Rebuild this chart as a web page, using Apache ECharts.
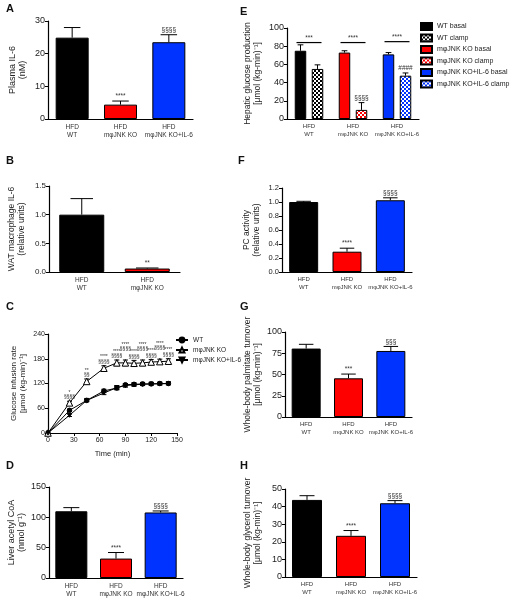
<!DOCTYPE html>
<html><head><meta charset="utf-8">
<script src="https://cdn.jsdelivr.net/npm/echarts@6/dist/echarts.min.js"></script>
<style>html,body{margin:0;padding:0;background:#fff}#c{width:512px;height:600px}</style>
</head><body><div id="c"></div>
<script>
// ---------- data ----------
const groups3 = ['HFD\nWT', 'HFD\nmφJNK KO', 'HFD\nmφJNK KO+IL-6'];
const groups2 = ['HFD\nWT', 'HFD\nmφJNK KO'];

const aMean = [24.9, 4.4, 23.5];
const aErr  = [3.1, 1.1, 2.3];
const aSig  = ['', '****', '§§§§'];

const bMean = [1.0, 0.06];
const bErr  = [0.28, 0.01];
const bSig  = ['', '**'];

const cTime  = [0, 25, 45, 65, 80, 90, 100, 110, 120, 130, 140];
const cWT    = [0, 55, 79, 102, 109, 117, 118, 119, 119, 120, 120];
const cWTErr = [0, 3, 3, 4, 4, 3, 3, 3, 3, 3, 3];
const cKO    = [0, 73, 125, 157, 170, 170, 169, 170, 172, 173, 174];
const cKOErr = [0, 4, 6, 6, 7, 7, 7, 7, 6, 6, 6];
const cIL    = [0, 43, 79, 97, 110, 115, 117, 118, 119, 119, 120];
const cILErr = [0, 3, 3, 4, 5, 4, 4, 3, 3, 3, 3];
const cSig   = ['', '*\n§§§§', '**\n§§', '****\n§§§§', '****\n§§§§', '****\n§§§§', '****\n§§§§', '****\n§§§§', '****\n§§§§', '****\n§§§§', '****\n§§§§'];
const cNames = ['WT', 'mφJNK KO', 'mφJNK KO+IL-6'];

const dMean = [110, 32, 108];
const dErr  = [6, 10, 2.5];
const dSig  = ['', '****', '§§§§'];

const eNames    = ['WT basal', 'WT clamp', 'mφJNK KO basal', 'mφJNK KO clamp', 'mφJNK KO+IL-6 basal', 'mφJNK KO+IL-6 clamp'];
const eBasal    = [75, 73, 71];
const eBasalErr = [6.5, 2, 2];
const eClamp    = [55, 10, 47.6];
const eClampErr = [4.5, 8, 3];
const eClampSig = ['', '§§§§', '####'];
const eBracket    = [84, 84, 85];
const eBracketSig = ['***', '****', '****'];

const fMean = [1.0, 0.29, 1.025];
const fErr  = [0.01, 0.05, 0.035];
const fSig  = ['', '****', '§§§§'];

const gMean = [80.5, 45.5, 77.7];
const gErr  = [5, 5, 5.3];
const gSig  = ['', '***', '§§§'];

const hMean = [43.8, 23.4, 41.9];
const hErr  = [2.4, 3, 1.5];
const hSig  = ['', '****', '§§§§'];

// ---------- styling / builders ----------
const FONT = 'Liberation Sans, Arial, sans-serif';
const COLS = ['#000000', '#ff0000', '#0033ff'];
const grids = [], xAxes = [], yAxes = [], series = [];

function addGrid(left, top, width, height) { grids.push({left, top, width, height}); return grids.length - 1; }
function catAxis(gi, cats, fs) {
  xAxes.push({type: 'category', gridIndex: gi, data: cats,
    axisLine: {lineStyle: {color: '#000', width: 1.2}},
    axisTick: {alignWithLabel: true, length: 3, lineStyle: {color: '#000'}},
    axisLabel: {fontSize: fs, lineHeight: fs + 1.5, color: '#333', margin: 4, fontFamily: FONT, interval: 0},
    splitLine: {show: false}});
  return xAxes.length - 1;
}
function valAxis(gi, min, max, interval, name, dec, gap, fs, nfs) {
  yAxes.push({type: 'value', gridIndex: gi, min, max, interval, name,
    nameLocation: 'middle', nameGap: gap, nameRotate: 90,
    nameTextStyle: {fontSize: nfs, lineHeight: nfs + 1.5, fontFamily: FONT, color: '#222'},
    axisLine: {show: true, lineStyle: {color: '#000', width: 1.2}},
    axisTick: {show: true, length: 3, lineStyle: {color: '#000'}},
    axisLabel: {fontSize: fs, color: '#222', margin: 3, fontFamily: FONT,
      formatter: v => dec ? v.toFixed(dec) : String(v)},
    splitLine: {show: false}});
  return yAxes.length - 1;
}
function errSeries(xi, yi, means, errs, sigs, offset, capW) {
  return {type: 'custom', xAxisIndex: xi, yAxisIndex: yi, z: 5, silent: true,
    data: means.map((m, i) => [i, m, errs[i]]),
    renderItem(params, api) {
      const i = api.value(0), m = api.value(1), e = api.value(2);
      const p0 = api.coord([i, m]), p1 = api.coord([i, m + e]);
      const x = p0[0] + offset, c = capW / 2;
      const ch = [
        {type: 'line', shape: {x1: x, y1: p0[1], x2: x, y2: p1[1]}, style: {stroke: '#000', lineWidth: 1}},
        {type: 'line', shape: {x1: x - c, y1: p1[1], x2: x + c, y2: p1[1]}, style: {stroke: '#000', lineWidth: 1}}
      ];
      const s = sigs[params.dataIndex];
      if (s) ch.push({type: 'text', style: {text: s, x: x, y: p1[1] - 1, align: 'center', verticalAlign: 'bottom',
        fontSize: 6.5, fontFamily: FONT, fill: '#333'}});
      return {type: 'group', children: ch};
    }};
}
function barPanel(gi, cats, means, errs, sigs, ymin, ymax, yint, name, dec, barW, gap, fs, cfs, nfs) {
  const xi = catAxis(gi, cats, cfs), yi = valAxis(gi, ymin, ymax, yint, name, dec, gap, fs, nfs);
  series.push({type: 'bar', xAxisIndex: xi, yAxisIndex: yi, barWidth: barW, silent: true,
    data: means.map((v, i) => ({value: v, itemStyle: {color: COLS[i], borderColor: '#000', borderWidth: 1}}))});
  series.push(errSeries(xi, yi, means, errs, sigs, 0, barW * 0.5));
}

// ---------- panels ----------
barPanel(addGrid(48, 21, 145, 98), groups3, aMean, aErr, aSig, 0, 30, 10, 'Plasma IL-6\n(nM)', 0, 33, 20, 9, 6.5, 9);
barPanel(addGrid(49, 186, 131, 86), groups2, bMean, bErr, bSig, 0, 1.5, 0.5, 'WAT macrophage IL-6\n(relative units)', 1, 45, 22, 8, 6.5, 8.5);
barPanel(addGrid(49, 487, 134, 91), groups3, dMean, dErr, dSig, 0, 150, 50, 'Liver acetyl CoA\n(nmol g⁻¹)', 0, 32, 22, 9, 6.5, 9);
barPanel(addGrid(282, 188, 130, 84), groups3, fMean, fErr, fSig, 0, 1.2, 0.2, 'PC activity\n(relative units)', 1, 29, 20, 7.5, 6, 8.5);
barPanel(addGrid(285, 332, 127, 85), groups3, gMean, gErr, gSig, 0, 100, 25, 'Whole-body palmitate turnover\n[μmol (kg-min)⁻¹]', 0, 29, 22, 9, 6, 8.5);
barPanel(addGrid(285, 489, 132, 88), groups3, hMean, hErr, hSig, 0, 50, 10, 'Whole-body glycerol turnover\n[μmol (kg-min)⁻¹]', 0, 30, 22, 9, 6, 8.5);

// Panel C (line chart)
(function () {
  const gi = addGrid(48, 334, 129, 99);
  xAxes.push({type: 'value', gridIndex: gi, min: 0, max: 150, interval: 30, name: 'Time (min)',
    nameLocation: 'middle', nameGap: 17, nameTextStyle: {fontSize: 7.5, fontFamily: FONT, color: '#222'},
    axisLine: {lineStyle: {color: '#000', width: 1.2}}, axisTick: {length: 3, lineStyle: {color: '#000'}},
    axisLabel: {fontSize: 7, color: '#222', margin: 4, fontFamily: FONT}, splitLine: {show: false}});
  const xi = xAxes.length - 1;
  const yi = valAxis(gi, 0, 240, 60, 'Glucose infusion rate\n[μmol (kg-min)⁻¹]', 0, 20, 7, 8);
  const defs = [
    {ys: cWT, es: cWTErr, symbol: 'circle', size: 4.5, fill: '#000', rot: 0},
    {ys: cKO, es: cKOErr, symbol: 'triangle', size: 6.5, fill: '#fff', rot: 0},
    {ys: cIL, es: cILErr, symbol: 'triangle', size: 4, fill: '#000', rot: 180}
  ];
  defs.forEach((d, k) => {
    series.push({type: 'line', name: cNames[k], xAxisIndex: xi, yAxisIndex: yi, z: 4 + k,
      data: cTime.map((t, i) => [t, d.ys[i]]), symbol: d.symbol, symbolSize: d.size, symbolRotate: d.rot,
      showAllSymbol: true, lineStyle: {color: '#000', width: 1},
      itemStyle: {color: d.fill, borderColor: '#000', borderWidth: 1}});
    series.push({type: 'custom', xAxisIndex: xi, yAxisIndex: yi, z: 3, silent: true,
      data: cTime.map((t, i) => [t, d.ys[i], d.es[i]]),
      renderItem(params, api) {
        const t = api.value(0), m = api.value(1), e = api.value(2);
        const idx = params.dataIndex;
        const ch = [];
        const pa = api.coord([t, m - e]), pb = api.coord([t, m + e]);
        if (e > 0) {
          ch.push({type: 'line', shape: {x1: pa[0], y1: pa[1], x2: pb[0], y2: pb[1]}, style: {stroke: '#000', lineWidth: 1}});
          ch.push({type: 'line', shape: {x1: pa[0] - 2.5, y1: pa[1], x2: pa[0] + 2.5, y2: pa[1]}, style: {stroke: '#000', lineWidth: 1}});
          ch.push({type: 'line', shape: {x1: pb[0] - 2.5, y1: pb[1], x2: pb[0] + 2.5, y2: pb[1]}, style: {stroke: '#000', lineWidth: 1}});
        }
        if (k === 1 && cSig[idx]) {
          const lift = (idx >= 5 && idx % 2 === 1) ? 9 : 2;
          ch.push({type: 'text', style: {text: cSig[idx], x: pb[0], y: pb[1] - lift, align: 'center', verticalAlign: 'bottom',
            fontSize: 5, lineHeight: 4.5, fontFamily: FONT, fill: '#333'}});
        }
        return {type: 'group', children: ch};
      }});
  });
})();

// Panel E (grouped bars with patterns)
function checker(col) {
  const c = document.createElement('canvas'); c.width = 4; c.height = 4;
  const x = c.getContext('2d');
  x.fillStyle = '#fff'; x.fillRect(0, 0, 4, 4);
  x.fillStyle = col; x.fillRect(0, 0, 2, 2); x.fillRect(2, 2, 2, 2);
  return c;
}
(function () {
  const gi = addGrid(287, 28, 132, 91);
  const xi = catAxis(gi, groups3, 6);
  const yi = valAxis(gi, 0, 100, 20, 'Hepatic glucose production\n[μmol (kg-min)⁻¹]', 0, 24, 9, 8.5);
  const BW = 11.5, OFF = 8.5;
  for (let g = 0; g < 3; g++) {
    series.push({type: 'bar', name: eNames[2 * g], xAxisIndex: xi, yAxisIndex: yi, stack: 'basal', barWidth: BW, barGap: '48%',
      data: eBasal.map((v, i) => i === g ? v : '-'),
      itemStyle: {color: COLS[g], borderColor: '#000', borderWidth: 1}});
    series.push({type: 'bar', name: eNames[2 * g + 1], xAxisIndex: xi, yAxisIndex: yi, stack: 'clamp', barWidth: BW, barGap: '48%',
      data: eClamp.map((v, i) => i === g ? v : '-'),
      itemStyle: {color: {image: checker(COLS[g]), repeat: 'repeat'}, borderColor: '#000', borderWidth: 1}});
  }
  series.push(errSeries(xi, yi, eBasal, eBasalErr, ['', '', ''], -OFF, BW * 0.5));
  series.push(errSeries(xi, yi, eClamp, eClampErr, eClampSig, OFF, BW * 0.5));
  series.push({type: 'custom', xAxisIndex: xi, yAxisIndex: yi, z: 5, silent: true,
    data: eBracket.map((v, i) => [i, v]),
    renderItem(params, api) {
      const p = api.coord([api.value(0), api.value(1)]);
      return {type: 'group', children: [
        {type: 'line', shape: {x1: p[0] - 12.5, y1: p[1], x2: p[0] + 12.5, y2: p[1]}, style: {stroke: '#000', lineWidth: 1.2}},
        {type: 'text', style: {text: eBracketSig[params.dataIndex], x: p[0], y: p[1] - 1, align: 'center', verticalAlign: 'bottom',
          fontSize: 6.5, fontFamily: FONT, fill: '#333'}}
      ]};
    }});
})();

const letters = [['A', 6, 3], ['B', 6, 155], ['C', 6, 301], ['D', 6, 460], ['E', 240, 6], ['F', 238, 155], ['G', 240, 301], ['H', 240, 460]];

const chart = echarts.init(document.getElementById('c'), null, {renderer: 'canvas'});
chart.setOption({
  animation: false,
  backgroundColor: '#fff',
  textStyle: {fontFamily: FONT},
  grid: grids, xAxis: xAxes, yAxis: yAxes, series,
  legend: [
    {data: cNames, orient: 'vertical', left: 170, top: 331, itemWidth: 12, itemHeight: 6, itemGap: 2,
      textStyle: {fontSize: 6.5, lineHeight: 8, fontFamily: FONT, color: '#222'}, selectedMode: false},
    {data: eNames, orient: 'vertical', left: 415, top: 17, itemWidth: 11, itemHeight: 7, itemGap: 2.5, icon: 'rect',
      textStyle: {fontSize: 7, lineHeight: 8, fontFamily: FONT, color: '#222'}, selectedMode: false}
  ],
  graphic: letters.map(l => ({type: 'text', left: l[1], top: l[2],
    style: {text: l[0], fontSize: 11, fontWeight: 'bold', fontFamily: FONT, fill: '#111'}}))
});
</script></body></html>
